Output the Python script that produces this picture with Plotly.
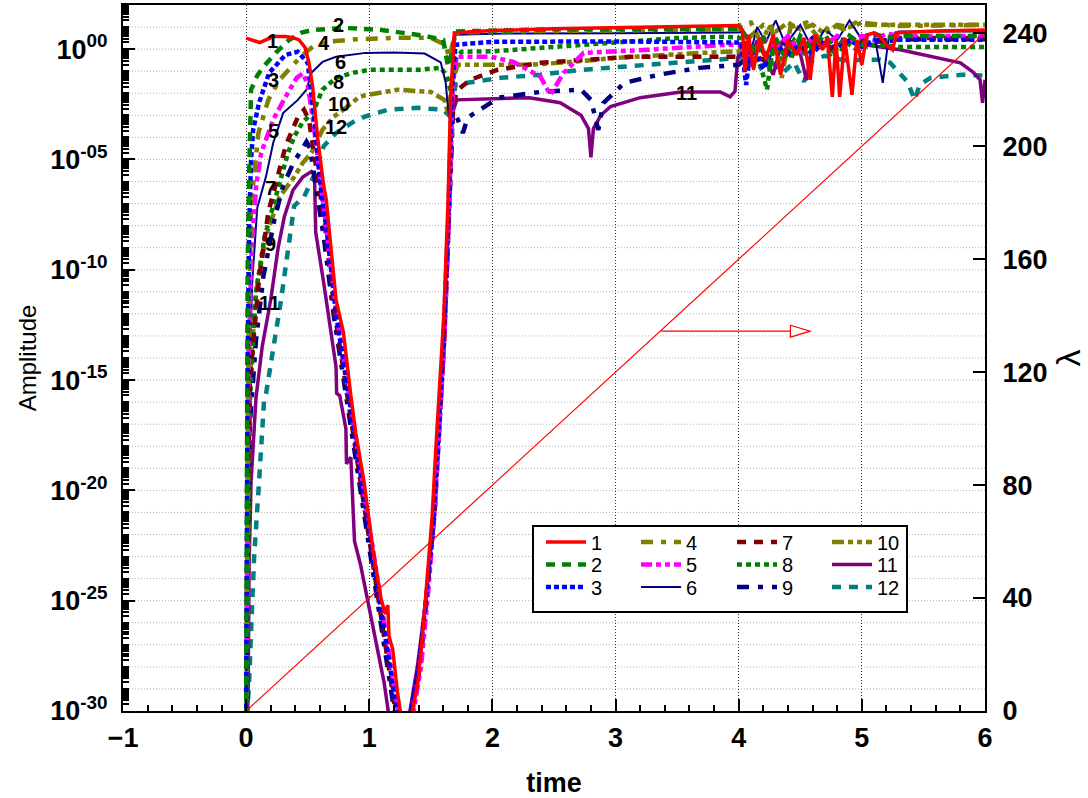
import plotly.graph_objects as go

FONT = "Liberation Sans, Arial, sans-serif"

# ---- data: time and log10(amplitude) ----
t1 = [0.00, 0.05, 0.11, 0.22, 0.32, 0.38, 0.43, 0.48, 0.51, 0.54, 0.58, 0.63, 0.65, 0.73, 0.79, 0.85, 0.89, 0.957, 1.03, 1.095,
      1.13, 1.15, 1.16, 1.19, 1.23, 1.28, 1.30, 1.35, 1.395, 1.435, 1.475, 1.51, 1.54, 1.575, 1.605, 1.64, 1.66, 1.69, 2.0, 2.5,
      3.0, 3.5, 4.0, 4.03, 4.05, 4.08, 4.12, 4.17, 4.22, 4.28, 4.34, 4.40, 4.47, 4.53, 4.58, 4.62, 4.68, 4.72, 4.76, 4.79,
      4.82, 4.86, 4.92, 4.96, 5.0, 5.04, 5.1, 5.15, 5.2, 5.25, 5.28, 5.6, 6.0]
a1 = [0.50, 0.42, 0.30, 0.57, 0.57, 0.52, 0.42, 0.06, -0.62, -1.7, -4.0, -6.2, -6.8, -11.35, -12.85, -15.7, -17.4, -19.6, -22.7, -24.9,
      -25.6, -25.2, -26.6, -27.2, -29.2, -31, -31, -30, -28.7, -26.4, -23.4, -21.2, -18.15, -15.1, -12.1, -6.8, -2.3, 0.74, 0.84, 0.92,
      0.97, 1.02, 1.07, 0.87, -1.0, 0.65, -0.94, 0.51, -0.48, 0.65, -1.16, 0.42, -0.26, 0.51, -1.39, 0.65, -0.03, 0.51, -2.16, 0.42,
      -2.16, 0.51, -2.07, 0.42, -0.71, 0.65, 0.74, 0.56, 0.19, -0.03, 0.74, 0.82, 0.87]

t2 = [0.0, 0.005, 0.012, 0.024, 0.04, 0.09, 0.14, 0.24, 0.35, 0.45, 0.54, 0.80, 1.10, 1.45, 1.60, 1.64, 1.67, 1.70, 2.0, 2.5,
      3.0, 3.5, 4.0, 4.02, 4.08, 4.15, 4.2, 4.25, 4.3, 4.36, 4.42, 4.5, 4.6, 4.7, 4.8, 4.9, 5.0, 5.1, 5.2, 5.3, 5.6, 6.0]
a2 = [-31, -20, -10, -5.8, -1.84, -1.2, -0.8, -0.17, 0.42, 0.75, 0.87, 0.96, 0.87, 0.6, 0.42, -0.8, -0.2, 0.8, 0.85, 0.9,
      0.9, 0.88, 0.85, 0.9, 0.4, -0.3, 0.6, -0.9, 0.5, -0.2, -0.5, 0.6, 0.0, 0.7, -0.4, 0.6, 0.2, 0.7, 0.5, 0.6, 0.6, 0.6]

t3 = [0.0, 0.005, 0.012, 0.025, 0.04, 0.057, 0.105, 0.187, 0.32, 0.42, 0.50, 0.55, 0.60, 0.66, 0.73, 0.84, 0.95, 1.06, 1.17, 1.25,
      1.31, 1.40, 1.46, 1.52, 1.56, 1.60, 1.64, 1.67, 1.70, 2.0, 3.0, 4.0, 4.02, 4.06, 4.1, 4.2, 4.3, 4.4, 4.5, 4.6,
      4.7, 4.8, 4.9, 5.0, 5.1, 5.2, 5.3, 6.0]
a3 = [-31, -22, -14, -8, -5, -3.65, -2.43, -1.07, -0.26, -0.12, -0.62, -3.0, -6.0, -8.5, -12, -16, -20, -24, -28, -31,
      -31, -28, -25, -21.5, -17.5, -13.5, -8, -2, 0.2, 0.33, 0.35, 0.3, 0.3, -1.62, 0.2, -0.9, 0.3, -0.4, 0.35, -0.2,
      0.4, 0.0, 0.4, 0.1, 0.4, 0.35, 0.42, 0.42]

t4 = [0.0, 0.015, 0.04, 0.10, 0.18, 0.27, 0.36, 0.45, 0.55, 0.7, 0.9, 1.2, 1.5, 1.62, 1.65, 1.68, 1.72, 2.0, 3.0, 4.0,
      4.02, 4.1, 4.18, 4.26, 4.35, 4.42, 4.55, 4.65, 4.75, 4.85, 4.95, 5.05, 5.2, 5.3, 6.0]
a4 = [-31, -15, -7, -3.8, -2.3, -1.4, -0.85, -0.3, 0.15, 0.35, 0.45, 0.51, 0.51, 0.19, -0.4, 0.3, 0.75, 0.8, 0.85, 0.9,
      1.1, 1.2, 0.3, 1.15, -1.3, 1.0, 1.2, 0.5, 1.15, 0.9, 1.2, 1.1, 1.1, 1.05, 1.1]

t5 = [0.0, 0.008, 0.02, 0.045, 0.081, 0.122, 0.22, 0.32, 0.41, 0.46, 0.50, 0.55, 0.60, 0.66, 0.735, 0.845, 0.955, 1.065, 1.18, 1.26,
      1.33, 1.42, 1.48, 1.53, 1.57, 1.61, 1.65, 1.68, 1.71, 1.99, 2.17, 2.39, 2.47, 2.58, 2.74, 3.26, 3.88, 4.0, 4.1, 4.2,
      4.3, 4.4, 4.5, 4.6, 4.7, 4.8, 4.9, 5.0, 5.1, 5.2, 5.3, 6.0]
a5 = [-31, -22, -14, -9, -6.2, -4.7, -3.2, -2.16, -1.3, -1.1, -1.6, -3.5, -5.8, -8.2, -12, -16, -20, -24, -28, -31,
      -31, -28, -24.5, -21, -17, -13, -7, -1.5, -0.35, -0.35, -0.58, -1.25, -2.07, -1.07, -0.17, -0.03, 0.19, 0.2, -0.3, 0.5,
      0.0, 0.6, -0.1, 0.5, 0.2, 0.6, 0.3, 0.6, 0.4, 0.7, 0.6, 0.6]

t6 = [0.0, 0.008, 0.02, 0.05, 0.09, 0.16, 0.22, 0.30, 0.42, 0.49, 0.53, 0.62, 0.73, 0.97, 1.2, 1.45, 1.58, 1.62, 1.645, 1.665,
      1.70, 2.0, 3.0, 4.0, 4.02, 4.08, 4.15, 4.22, 4.3, 4.38, 4.5, 4.6, 4.7, 4.8, 4.9, 4.98, 5.1, 5.17, 5.22, 5.3, 6.0]
a6 = [-31, -22, -15.7, -10.5, -7.2, -5.8, -4.24, -2.9, -2.3, -1.84, -1.07, -0.58, -0.35, -0.17, -0.15, -0.2, -0.6, -1.5, -3.0, -2.0,
      0.65, 0.7, 0.72, 0.75, 0.8, -0.5, 1.0, 0.3, 1.3, 0.2, 1.1, 0.0, 0.9, 0.4, 1.3, 0.6, 0.7, -1.53, 0.6, 0.8, 0.8]

t7 = [0.0, 0.01, 0.03, 0.065, 0.105, 0.18, 0.27, 0.32, 0.42, 0.47, 0.51, 0.55, 0.60, 0.64, 0.72, 0.83, 0.94, 1.05, 1.16, 1.24,
      1.32, 1.41, 1.47, 1.53, 1.57, 1.61, 1.65, 1.68, 1.72, 1.82, 2.04, 2.39, 3.12, 3.88, 4.02, 4.1, 4.2, 4.3, 4.45, 4.6,
      4.75, 4.9, 5.1, 5.3, 6.0]
a7 = [-31, -22, -15, -12.85, -10.4, -7.4, -5.5, -4.4, -3.07, -2.75, -3.2, -4.8, -6.5, -8, -12, -16, -20, -24, -28, -31,
      -31, -28, -24.5, -21, -17, -13, -7, -2.5, -1.84, -1.39, -0.94, -0.62, -0.35, -0.35, -0.35, -0.2, -0.5, 0.2, -0.3, 0.3,
      0.0, 0.4, 0.3, 0.5, 0.5]

t8 = [0.0, 0.01, 0.03, 0.08, 0.15, 0.25, 0.34, 0.39, 0.46, 0.54, 0.62, 0.73, 0.87, 1.0, 1.4, 1.58, 1.63, 1.66, 1.69, 1.75,
      2.0, 2.5, 3.0, 3.5, 3.9, 4.02, 4.1, 4.18, 4.23, 4.28, 4.35, 4.45, 4.55, 4.65, 4.75, 4.85, 4.95, 5.1, 5.3, 6.0]
a8 = [-31, -24, -16, -11, -8.5, -6.5, -4.7, -3.97, -3.3, -2.9, -1.84, -1.3, -1.07, -0.94, -0.94, -0.85, -1.2, -1.9, -0.5, -0.12,
      -0.1, 0.1, 0.3, 0.5, 0.56, 0.5, 0.0, -0.8, -1.84, 0.3, -0.6, 0.4, -0.3, 0.3, -0.2, 0.4, 0.0, 0.2, 0.1, 0.1]

t9 = [0.0, 0.01, 0.03, 0.08, 0.14, 0.23, 0.30, 0.38, 0.49, 0.52, 0.56, 0.60, 0.63, 0.71, 0.82, 0.93, 1.04, 1.15, 1.23, 1.31,
      1.41, 1.47, 1.53, 1.57, 1.61, 1.65, 1.68, 1.72, 1.76, 1.80, 2.05, 2.39, 2.72, 2.80, 2.86, 2.90, 3.07, 3.35, 3.68, 4.0,
      4.1, 4.2, 4.3, 4.4, 4.5, 4.6, 4.7, 4.8, 4.9, 5.0, 5.2, 5.3, 6.0]
a9 = [-31, -24, -17, -13.2, -10.3, -7.7, -6.2, -5.2, -4.2, -4.5, -6.0, -7.5, -8.5, -12, -16, -20, -24, -28, -31, -31,
      -28, -24.5, -21, -17, -13, -7, -2.8, -3.2, -3.8, -3.1, -2.2, -1.94, -1.84, -2.3, -3.66, -2.45, -1.53, -1.16, -0.85, -0.71,
      -0.2, 0.5, -0.1, 0.4, 0.0, 0.5, 0.2, 0.5, 0.3, 0.45, 0.4, 0.45, 0.45]

t10 = [0.0, 0.012, 0.03, 0.08, 0.16, 0.27, 0.39, 0.46, 0.53, 0.62, 0.71, 0.81, 0.91, 0.96, 1.23, 1.50, 1.61, 1.645, 1.67, 1.72,
       2.3, 2.6, 3.0, 3.7, 4.0, 4.1, 4.2, 4.3, 4.4, 4.5, 4.6, 4.7, 4.8, 4.9, 5.0, 5.15, 5.3, 6.0]
a10 = [-31, -22, -15, -11, -8.5, -6.7, -5.8, -5.15, -4.7, -3.65, -3.07, -2.66, -2.2, -2.1, -1.84, -1.94, -2.3, -3.0, -1.5, -0.71,
       -0.71, -0.6, -0.4, -0.17, -0.1, 0.6, 1.1, 0.8, 1.2, 0.9, 1.1, 0.7, 1.1, 1.0, 1.2, 1.1, 1.1, 1.1]

t11 = [0.0, 0.016, 0.024, 0.04, 0.08, 0.13, 0.20, 0.26, 0.31, 0.38, 0.46, 0.53, 0.555, 0.565, 0.63, 0.69, 0.73, 0.735, 0.76, 0.81,
       0.815, 0.85, 0.876, 0.88, 0.93, 1.04, 1.12, 1.18, 1.30, 1.39, 1.46, 1.52, 1.56, 1.60, 1.64, 1.67, 1.71, 2.0, 2.3, 2.55,
       2.72, 2.78, 2.80, 2.82, 2.88, 2.96, 3.2, 3.53, 3.85, 3.93, 3.97, 3.99, 4.02, 4.08, 4.15, 4.28, 4.35, 4.5, 4.55, 4.6,
       4.75, 4.9, 5.04, 5.31, 5.58, 5.80, 5.90, 5.96, 5.98, 6.0]
a11 = [-31, -29.5, -23.4, -19.6, -15.8, -13.5, -11.35, -9.0, -7.6, -6.4, -5.8, -5.55, -5.7, -8.3, -10.6, -12.85, -14.4, -15.6, -15.7, -17.2,
       -18.8, -18.5, -21.2, -22.3, -23.4, -26.4, -28.7, -31, -31, -28, -25, -21.5, -17.5, -13.5, -8, -3, -2.3, -2.25, -2.2, -2.43,
       -3.0, -3.6, -4.9, -3.6, -3.0, -2.6, -2.2, -1.94, -1.94, -2.16, -1.9, -0.5, 0.3, -0.8, 0.4, -1.16, 0.3, -0.2, -1.4, 0.3,
       0.1, 0.4, 0.19, -0.03, -0.35, -0.62, -1.03, -1.39, -2.43, -1.39]

t12 = [0.0, 0.012, 0.024, 0.04, 0.065, 0.105, 0.146, 0.162, 0.284, 0.39, 0.47, 0.57, 0.63, 0.73, 0.87, 0.957, 1.15, 1.395, 1.6, 1.66,
       1.70, 2.07, 2.39, 2.72, 3.28, 3.85, 4.0, 4.05, 4.15, 4.25, 4.36, 4.45, 4.53, 4.6, 4.7, 4.85, 5.0, 5.15, 5.23, 5.37,
       5.43, 5.47, 5.56, 5.82, 6.0]
a12 = [-31, -30, -28.7, -26.4, -23.0, -19.6, -15.9, -15.6, -11.35, -7.1, -6.7, -5.5, -4.4, -3.8, -3.3, -3.07, -2.75, -2.66, -2.75, -3.07,
       -1.6, -1.3, -1.16, -0.94, -0.71, -0.48, -0.4, -0.2, -1.0, -0.5, -1.07, -0.6, -1.48, -0.5, -0.3, -0.5, -0.48, -0.48, -0.62, -1.48,
       -2.3, -1.6, -1.3, -1.16, -1.2]

series_names = ["1", "2", "3", "4", "5", "6", "7", "8", "9", "10", "11", "12"]
series_t = [t1, t2, t3, t4, t5, t6, t7, t8, t9, t10, t11, t12]
series_log_amp = [a1, a2, a3, a4, a5, a6, a7, a8, a9, a10, a11, a12]

# lambda (right axis)
lam_t = [0, 6]
lam_val = [0, 240]

# curve labels: (text, time, log10 amplitude)
curve_labels = [("1", 0.21, 0.35), ("2", 0.75, 1.1), ("3", 0.22, -1.39), ("4", 0.63, 0.29),
                ("5", 0.22, -3.7), ("6", 0.77, -0.58), ("7", 0.20, -6.3), ("8", 0.75, -1.5),
                ("9", 0.20, -8.85), ("10", 0.75, -2.5), ("11", 0.19, -11.5), ("12", 0.73, -3.55),
                ("11", 3.58, -1.98)]

left_tick_exp = [0, -5, -10, -15, -20, -25, -30]
left_tick_text = ["10<sup>00</sup>", "10<sup>-05</sup>", "10<sup>-10</sup>", "10<sup>-15</sup>",
                  "10<sup>-20</sup>", "10<sup>-25</sup>", "10<sup>-30</sup>"]
right_ticks = [0, 40, 80, 120, 160, 200, 240]
x_ticks = [-1, 0, 1, 2, 3, 4, 5, 6]

# ---- styles ----
colors = ["#ff0000", "#008000", "#0000ff", "#808000", "#ff00ff", "#000080",
          "#800000", "#008000", "#000080", "#808000", "#800080", "#008080"]
widths = [3.5, 4.5, 4.5, 4.5, 4.5, 2.0, 4.5, 4.5, 4.5, 4.5, 3.5, 4.5]
dashes = ["solid", "9px,7px", "5px,3px", "12px,8px,5px,8px", "11px,4px,5px,4px,5px,4px", "solid",
          "9px,8px", "5px,4px", "12px,9px,5px,9px", "12px,4px,5px,4px,5px,4px", "solid", "9px,8px"]

fig = go.Figure()

def legend_id(i):
    return "legend" if i == 0 else f"legend{i + 1}"

for i in reversed(range(12)):
    fig.add_trace(go.Scatter(
        x=series_t[i], y=[10.0 ** v for v in series_log_amp[i]],
        mode="lines", name=series_names[i],
        line=dict(color=colors[i], width=widths[i], dash=dashes[i]),
        legend=legend_id(i), showlegend=True, hoverinfo="skip"))

fig.add_trace(go.Scatter(x=lam_t, y=lam_val, mode="lines", yaxis="y2",
                         line=dict(color="#ff0000", width=1.2), showlegend=False, hoverinfo="skip"))

# ---- layout ----
L0, R0, T0, B0 = 123, 103, 5, 87
W, H = 1088, 798
pw, ph = W - L0 - R0, H - T0 - B0

def px_to_paper_x(px):
    return (px - L0) / pw

def px_to_paper_y(py):
    return (H - B0 - py) / ph

legend_cols_px = [541, 636, 732, 827]
legend_rows_px = [542, 564.5, 587]
legends = {}
for i in range(12):
    c, r = i // 3, i % 3
    legends[legend_id(i)] = dict(
        x=px_to_paper_x(legend_cols_px[c]), y=px_to_paper_y(legend_rows_px[r]),
        xanchor="left", yanchor="middle", bgcolor="rgba(0,0,0,0)", borderwidth=0,
        font=dict(family=FONT, size=20, color="black"), itemwidth=40, tracegroupgap=0)

minor_y = [k * 10.0 ** d for d in range(-30, 2) for k in range(2, 10)]

annotations = [dict(text=s, x=tx, y=ly, xref="x", yref="y", showarrow=False,
                    font=dict(family=FONT, size=20, color="black", weight="bold"))
               for s, tx, ly in curve_labels]

shapes = [
    dict(type="rect", xref="paper", yref="paper",
         x0=px_to_paper_x(533), x1=px_to_paper_x(907), y0=px_to_paper_y(612), y1=px_to_paper_y(526),
         line=dict(color="black", width=2), fillcolor="white", layer="above"),
    dict(type="line", xref="x", yref="y2", x0=3.37, x1=4.42, y0=134.5, y1=134.5,
         line=dict(color="#ff0000", width=1.2)),
    dict(type="path", xref="x", yref="y2", path="M 4.42 132.4 L 4.58 134.5 L 4.42 136.6 Z",
         line=dict(color="#ff0000", width=1.2), fillcolor="white"),
]

fig.update_layout(
    width=W, height=H, margin=dict(l=L0, r=R0, t=T0, b=B0, autoexpand=False),
    paper_bgcolor="white", plot_bgcolor="white",
    font=dict(family=FONT, color="black"),
    xaxis=dict(range=[-1, 6], tickmode="array", tickvals=x_ticks, ticks="inside", ticklen=12, tickwidth=1.5,
               tickcolor="black", showline=True, linecolor="black", linewidth=2, mirror=True, automargin=False,
               showgrid=True, gridcolor="#333333", griddash="1px,2px", gridwidth=1, zeroline=False,
               tickfont=dict(family=FONT, size=27, color="black", weight="bold"), ticklabelstandoff=2,
               minor=dict(ticks="inside", dtick=0.2, tick0=0, ticklen=6, tickcolor="black", showgrid=False),
               title=dict(text="time", font=dict(family=FONT, size=27, color="black", weight="bold"), standoff=21)),
    yaxis=dict(type="log", range=[-30, 2], tickmode="array",
               tickvals=[10.0 ** e for e in left_tick_exp], ticktext=left_tick_text,
               ticks="inside", ticklen=12, tickwidth=1.5, tickcolor="black", automargin=False,
               showline=True, linecolor="black", linewidth=2, zeroline=False,
               showgrid=False,
               tickfont=dict(family=FONT, size=27, color="black", weight="bold"), ticklabelstandoff=8,
               minor=dict(tickvals=minor_y + [10.0 ** d for d in range(-30, 3)], ticks="inside", ticklen=6,
                          tickcolor="black", showgrid=False),
               title=dict(text="Amplitude", font=dict(family=FONT, size=24, color="black"), standoff=7)),
    yaxis2=dict(overlaying="y", side="right", range=[0, 250], tickmode="array", tickvals=right_ticks,
                ticks="inside", ticklen=12, tickwidth=1.5, tickcolor="black", automargin=False,
                showline=True, linecolor="black", linewidth=2, showgrid=False, zeroline=False,
                tickfont=dict(family=FONT, size=27, color="black", weight="bold"), ticklabelstandoff=10,
                title=dict(text="λ", font=dict(family=FONT, size=34, color="black"), standoff=10)),
    annotations=annotations, shapes=shapes,
    **legends,
)

# horizontal dotted grid at every decade (left axis)
for d in range(-29, 2):
    fig.add_shape(type="line", xref="paper", yref="y", x0=0, x1=1, y0=10.0 ** d, y1=10.0 ** d,
                  line=dict(color="#b0b0b0", width=1, dash="1px,2px"), layer="below")

fig.write_html("out.html", config={"displayModeBar": False},
               post_script="document.body.style.margin='0';document.body.style.padding='0';")
